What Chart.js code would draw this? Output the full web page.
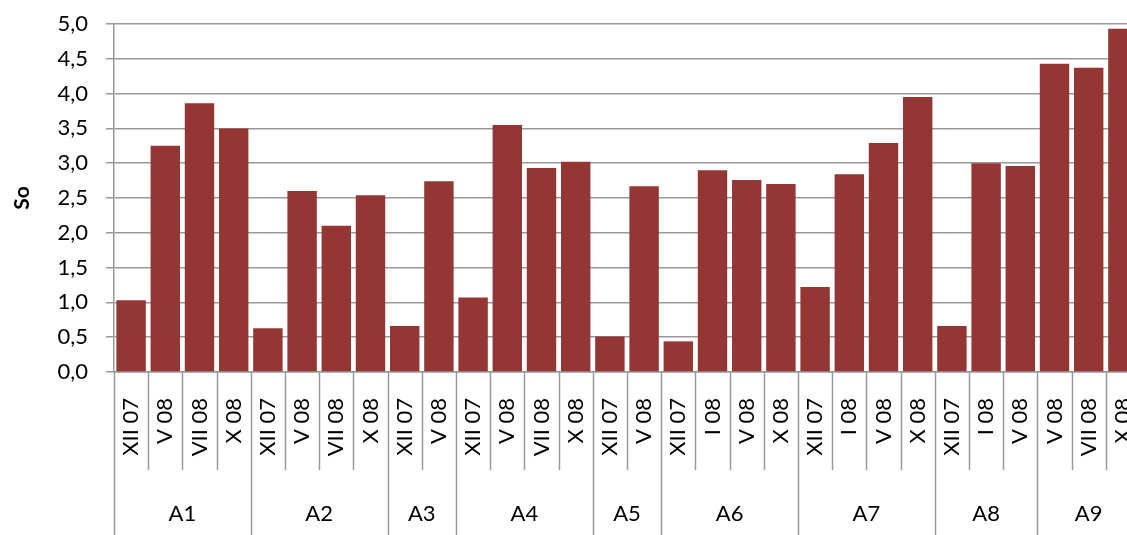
<!DOCTYPE html>
<html>
<head>
<meta charset="utf-8">
<script src="https://cdn.jsdelivr.net/npm/chart.js@4.4.1/dist/chart.umd.min.js"></script>
<style>
html, body { margin: 0; padding: 0; overflow: hidden; background: #fff; }
canvas { display: block; }
</style>
</head>
<body>
<canvas id="chart" width="1140" height="535"></canvas>
<script>
// sampling sites and the campaigns measured at each one
const sites = ['A1', 'A2', 'A3', 'A4', 'A5', 'A6', 'A7', 'A8', 'A9'];
const periods = [
    ['XII 07', 'V 08', 'VII 08', 'X 08'],
    ['XII 07', 'V 08', 'VII 08', 'X 08'],
    ['XII 07', 'V 08'],
    ['XII 07', 'V 08', 'VII 08', 'X 08'],
    ['XII 07', 'V 08'],
    ['XII 07', 'I 08', 'V 08', 'X 08'],
    ['XII 07', 'I 08', 'V 08', 'X 08'],
    ['XII 07', 'I 08', 'V 08'],
    ['V 08', 'VII 08', 'X 08']
];
const soValues = [
    [1.03, 3.25, 3.86, 3.50],
    [0.63, 2.60, 2.10, 2.54],
    [0.66, 2.74],
    [1.07, 3.55, 2.93, 3.02],
    [0.51, 2.67],
    [0.44, 2.90, 2.76, 2.70],
    [1.22, 2.84, 3.29, 3.95],
    [0.66, 3.00, 2.96],
    [4.43, 4.37, 4.93]
];
const yTicks = [0, 0.5, 1, 1.5, 2, 2.5, 3, 3.5, 4, 4.5, 5];

const labels = periods.flat();
const data = soValues.flat();

// index where each site's group starts
const groupStarts = [];
let pos = 0;
periods.forEach(p => { groupStarts.push(pos); pos += p.length; });

const FONT = 'Lato, "Noto Sans", sans-serif';
const gridColor = '#999999';
const barColor = '#943634';

const groupAxis = {
    id: 'groupAxis',
    afterDraw(chart) {
        const x = chart.scales.x;
        const ctx = chart.ctx;
        const top = chart.chartArea.bottom;
        const step = x.getPixelForValue(1) - x.getPixelForValue(0);
        const edge = i => x.getPixelForValue(i) - step / 2;
        ctx.save();
        ctx.strokeStyle = gridColor;
        ctx.lineWidth = 1.5;
        for (let i = 0; i <= labels.length; i++) {
            const isGroup = groupStarts.includes(i) || i === labels.length;
            const px = Math.round(edge(i)) + 0.5;
            ctx.beginPath();
            ctx.moveTo(px, top);
            ctx.lineTo(px, isGroup ? chart.height : 470);
            ctx.stroke();
        }
        ctx.fillStyle = '#000';
        ctx.font = '22px ' + FONT;
        ctx.textAlign = 'center';
        ctx.textBaseline = 'middle';
        sites.forEach((s, g) => {
            const a = edge(groupStarts[g]);
            const b = edge(groupStarts[g] + periods[g].length);
            ctx.fillText(s, (a + b) / 2, 514);
        });
        ctx.restore();
    }
};

new Chart(document.getElementById('chart'), {
    type: 'bar',
    data: {
        labels: labels,
        datasets: [{
            data: data,
            backgroundColor: barColor,
            barPercentage: 0.86,
            categoryPercentage: 1
        }]
    },
    options: {
        responsive: false,
        animation: false,
        layout: { padding: { top: 24, left: 0, right: 0, bottom: 0 } },
        plugins: { legend: { display: false }, tooltip: { enabled: false } },
        scales: {
            x: {
                grid: { display: false, drawTicks: false },
                border: { display: true, color: gridColor, width: 1.5 },
                ticks: {
                    color: '#000',
                    font: { family: FONT, size: 22 },
                    minRotation: 90,
                    maxRotation: 90,
                    autoSkip: false,
                    padding: 26
                },
                afterFit(scale) {
                    scale.height = 163;
                    scale.paddingLeft = 0;
                    scale.paddingRight = 0;
                }
            },
            y: {
                min: 0,
                max: 5,
                afterBuildTicks(scale) {
                    scale.ticks = yTicks.map(v => ({ value: v }));
                },
                grid: { color: gridColor, lineWidth: 1.5, tickLength: 8 },
                border: { display: true, color: gridColor, width: 1.5 },
                ticks: {
                    color: '#000',
                    font: { family: FONT, size: 22 },
                    padding: 18,
                    callback: v => v.toFixed(1).replace('.', ',')
                },
                title: {
                    display: true,
                    text: 'So',
                    color: '#000',
                    font: { family: FONT, size: 21, weight: 'bold' },
                    padding: { top: 10, bottom: 0 }
                },
                afterFit(scale) {
                    scale.width = 114;
                    scale.paddingTop = 0;
                    scale.paddingBottom = 0;
                }
            }
        }
    },
    plugins: [groupAxis]
});
</script>
</body>
</html>
